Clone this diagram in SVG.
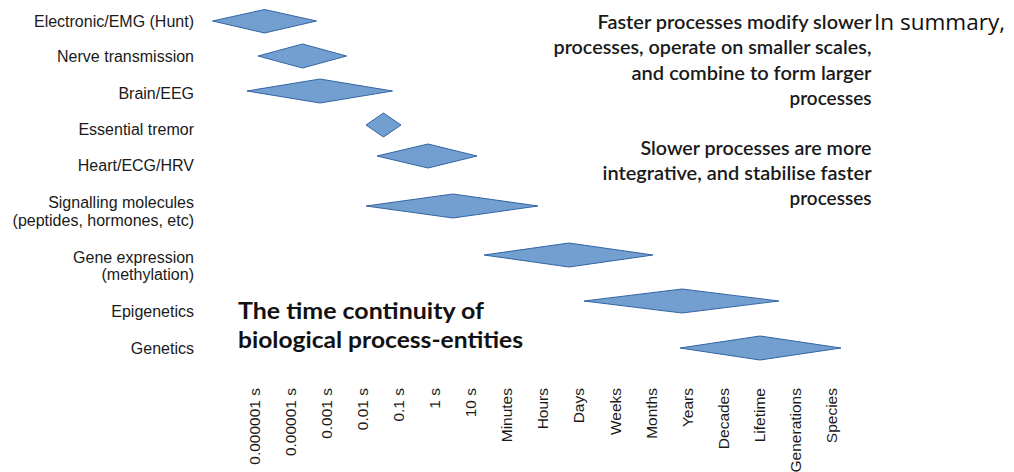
<svg xmlns="http://www.w3.org/2000/svg" width="1014" height="472" viewBox="0 0 1014 472">
<style>
.d{fill:#729fcf;stroke:#3465a4;stroke-width:1;stroke-linejoin:miter}
.lab{font-family:"Liberation Sans",Arial,sans-serif;font-size:16px;fill:#1a1a1a;text-anchor:end}
.ax{font-family:"Liberation Sans",Arial,sans-serif;font-size:15.5px;fill:#1a1a1a;text-anchor:end}
.note{font-family:Lato,"Open Sans",sans-serif;font-weight:600;font-size:18.5px;fill:#1a1a1a;text-anchor:end}
.sum{font-family:"Open Sans",Lato,sans-serif;font-size:22px;fill:#111}
.title{font-family:Lato,"Open Sans",sans-serif;font-weight:bold;font-size:23px;fill:#111}
</style>
<rect width="1014" height="472" fill="#fff"/>
<g id="node-emg">
<polygon class="d" points="212.5,21 264.5,9.5 316.5,21 264.5,33"/>
<text class="lab" x="194" y="26.5">Electronic/EMG (Hunt)</text>
</g>
<g id="node-nerve">
<polygon class="d" points="258,56 302.5,44 346.5,56 302.5,68"/>
<text class="lab" x="194" y="61.5">Nerve transmission</text>
</g>
<g id="node-brain">
<polygon class="d" points="247,91 320,79 392.5,91 320,103"/>
<text class="lab" x="194" y="98.5">Brain/EEG</text>
</g>
<g id="node-tremor">
<polygon class="d" points="366,125 383.5,113 401,125 383.5,137"/>
<text class="lab" x="194" y="135">Essential tremor</text>
</g>
<g id="node-heart">
<polygon class="d" points="377,156 428,144 477,156 428,168"/>
<text class="lab" x="194" y="171">Heart/ECG/HRV</text>
</g>
<g id="node-signalling">
<polygon class="d" points="366,206 453,194 538,206 453,218"/>
<text class="lab" x="194" y="208">Signalling molecules</text>
<text class="lab" x="194" y="226">(peptides, hormones, etc)</text>
</g>
<g id="node-gene">
<polygon class="d" points="484,255 569,243 653,255 569,267"/>
<text class="lab" x="194" y="262.5">Gene expression</text>
<text class="lab" x="194" y="280">(methylation)</text>
</g>
<g id="node-epigenetics">
<polygon class="d" points="584,301 682,289 779,301 682,313"/>
<text class="lab" x="194" y="317">Epigenetics</text>
</g>
<g id="node-genetics">
<polygon class="d" points="680,348 760,336 841,348 760,360"/>
<text class="lab" x="194" y="353.5">Genetics</text>
</g>
<g id="connectors"/>
<g id="axis">
<text class="ax" transform="translate(259.5,388) rotate(-90)">0.000001 s</text>
<text class="ax" transform="translate(295.6,388) rotate(-90)">0.00001 s</text>
<text class="ax" transform="translate(331.7,388) rotate(-90)">0.001 s</text>
<text class="ax" transform="translate(367.8,388) rotate(-90)">0.01 s</text>
<text class="ax" transform="translate(403.9,388) rotate(-90)">0.1 s</text>
<text class="ax" transform="translate(440,388) rotate(-90)">1 s</text>
<text class="ax" transform="translate(476.1,388) rotate(-90)">10 s</text>
<text class="ax" transform="translate(512.2,388) rotate(-90)">Minutes</text>
<text class="ax" transform="translate(548.3,388) rotate(-90)">Hours</text>
<text class="ax" transform="translate(584.4,388) rotate(-90)">Days</text>
<text class="ax" transform="translate(620.5,388) rotate(-90)">Weeks</text>
<text class="ax" transform="translate(656.6,388) rotate(-90)">Months</text>
<text class="ax" transform="translate(692.7,388) rotate(-90)">Years</text>
<text class="ax" transform="translate(728.8,388) rotate(-90)">Decades</text>
<text class="ax" transform="translate(764.9,388) rotate(-90)">Lifetime</text>
<text class="ax" transform="translate(801,388) rotate(-90)">Generations</text>
<text class="ax" transform="translate(837.1,388) rotate(-90)">Species</text>
</g>
<g id="title">
<text class="title" x="238" y="319" textLength="246" lengthAdjust="spacingAndGlyphs">The time continuity of</text>
<text class="title" x="238" y="348" textLength="285" lengthAdjust="spacingAndGlyphs">biological process-entities</text>
</g>
<g id="notes">
<text class="sum" x="874" y="30" textLength="131" lengthAdjust="spacingAndGlyphs">In summary,</text>
<text class="note" x="871.5" y="29" textLength="274" lengthAdjust="spacingAndGlyphs">Faster processes modify slower</text>
<text class="note" x="871.5" y="54" textLength="318" lengthAdjust="spacingAndGlyphs">processes, operate on smaller scales,</text>
<text class="note" x="871.5" y="79.5" textLength="240" lengthAdjust="spacingAndGlyphs">and combine to form larger</text>
<text class="note" x="871.5" y="105" textLength="82" lengthAdjust="spacingAndGlyphs">processes</text>
<text class="note" x="871.5" y="155" textLength="231" lengthAdjust="spacingAndGlyphs">Slower processes are more</text>
<text class="note" x="871.5" y="180" textLength="269" lengthAdjust="spacingAndGlyphs">integrative, and stabilise faster</text>
<text class="note" x="871.5" y="205" textLength="82" lengthAdjust="spacingAndGlyphs">processes</text>
</g>
</svg>
